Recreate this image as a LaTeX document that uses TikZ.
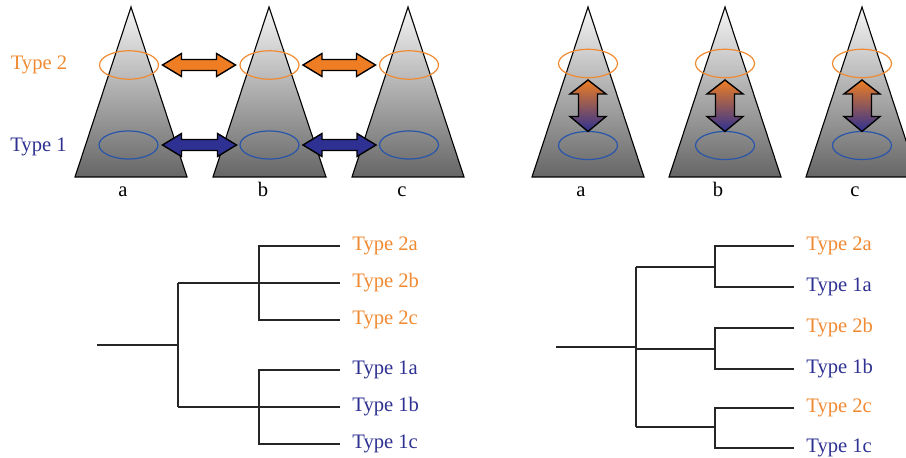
\documentclass[tikz,border=0pt]{standalone}
\usepackage{fontspec}
\setmainfont{Liberation Serif}
\usepackage{tikz}
\usetikzlibrary{positioning,calc}

\definecolor{typeorange}{RGB}{240,138,50}
\definecolor{typeblue}{RGB}{46,49,146}
\definecolor{ringblue}{RGB}{40,85,170}
\definecolor{arrorange}{RGB}{238,125,35}

\tikzset{
	cone/.style={draw=black, line width=0.55pt, top color=black!4, bottom color=black!60},
	ringtwo/.style={draw=typeorange, line width=0.6pt},
	ringone/.style={draw=ringblue, line width=0.6pt},
	tree/.style={draw=black!85, line width=0.75pt},
	leaftwo/.style={anchor=west, inner xsep=6pt, text=typeorange},
	leafone/.style={anchor=west, inner xsep=6pt, text=typeblue},
	conename/.style={anchor=base, inner sep=1pt}
}

\begin{document}
\begin{tikzpicture}[x=0.5pt, y=-0.5pt, font=\fontsize{10.3}{12}\selectfont]
	\useasboundingbox (0,0) rectangle (906,458);
	
	% cones, left panel
	\shadedraw[cone] (131,7) -- (187,177) -- (75,177) -- cycle;
	\shadedraw[cone] (269,7) -- (326,177) -- (213,177) -- cycle;
	\shadedraw[cone] (408,7) -- (464,177) -- (352,177) -- cycle;
	
	% rings, left panel
	\draw[ringtwo] (129,65) ellipse (29.5 and 14.2);
	\draw[ringtwo] (269.5,65) ellipse (29.5 and 14.2);
	\draw[ringtwo] (409,65) ellipse (29.5 and 14.2);
	\draw[ringone] (128.5,145) ellipse (29.5 and 14);
	\draw[ringone] (269.5,145) ellipse (29.5 and 14);
	\draw[ringone] (409,145) ellipse (29.5 and 14);
	
	% exchange arrows type 2
	\foreach \xa/\xb in {162.5/235.5, 303/375.5}{
		\draw[fill=arrorange, line width=0.7pt] (\xa,65) -- (\xa+19,53.5) -- (\xa+19,59.5)
		-- (\xb-19,59.5) -- (\xb-19,53.5) -- (\xb,65) -- (\xb-19,76.5) -- (\xb-19,70.5)
		-- (\xa+19,70.5) -- (\xa+19,76.5) -- cycle;
	}
	% exchange arrows type 1
	\foreach \xa/\xb in {162.5/236.5, 303/376}{
		\draw[fill=typeblue, line width=0.7pt] (\xa,145) -- (\xa+19,133.5) -- (\xa+19,139.5)
		-- (\xb-19,139.5) -- (\xb-19,133.5) -- (\xb,145) -- (\xb-19,156.5) -- (\xb-19,150.5)
		-- (\xa+19,150.5) -- (\xa+19,156.5) -- cycle;
	}
	
	% descriptions, left panel
	\node[text=typeorange] (lbltwo) at (39,65) {Type 2};
	\node[text=typeblue] (lblone) at (38.5,147) {Type 1};
	\node[conename] (la) at (123,197) {a};
	\node[conename] (lb) at (263,197) {b};
	\node[conename] (lc) at (402,197) {c};
	
	% cones, right panel
	\shadedraw[cone] (588,7) -- (644,177) -- (532,177) -- cycle;
	\shadedraw[cone] (725,7) -- (781,177) -- (669,177) -- cycle;
	\shadedraw[cone] (862,7) -- (918,177) -- (806,177) -- cycle;
	
	% rings and arrows, right panel
	\foreach \xc in {588,725,862}{
		\draw[ringtwo] (\xc,63.5) ellipse (29.5 and 14.2);
		\draw[ringone] (\xc,145.5) ellipse (29.5 and 14);
		\shadedraw[top color=arrorange, bottom color=typeblue, line width=0.7pt]
		(\xc,80) -- (\xc+18,94) -- (\xc+9.5,94) -- (\xc+9.5,116.5) -- (\xc+18,116.5)
		-- (\xc,131.5) -- (\xc-18,116.5) -- (\xc-9.5,116.5) -- (\xc-9.5,94)
		-- (\xc-18,94) -- cycle;
	}
	\node[conename] (ra) at (581,197) {a};
	\node[conename] (rb) at (718,197) {b};
	\node[conename] (rc) at (855,197) {c};
	
	% tree, left
	\node[leaftwo] (l2a) at (340,246) {Type 2a};
	\node[leaftwo] (l2b) at (340,283) {Type 2b};
	\node[leaftwo] (l2c) at (340,320) {Type 2c};
	\node[leafone] (l1a) at (340,370) {Type 1a};
	\node[leafone] (l1b) at (340,407) {Type 1b};
	\node[leafone] (l1c) at (340,444) {Type 1c};
	\coordinate (lroot) at (97,345);
	\coordinate (lsplit) at (178,345);
	\coordinate (ltop) at (178,283);
	\coordinate (lbot) at (178,407);
	\coordinate (lnodetwo) at (259,283);
	\coordinate (lnodeone) at (259,407);
	\draw[tree] (lroot) -- (lsplit);
	\draw[tree] (ltop) -- (lbot);
	\draw[tree] (ltop) -- (l2b.west);
	\draw[tree] (lbot) -- (l1b.west);
	\draw[tree] (l2a.west) -| (lnodetwo) |- (l2c.west);
	\draw[tree] (l1a.west) -| (lnodeone) |- (l1c.west);
	
	% tree, right
	\node[leaftwo] (r2a) at (794,246) {Type 2a};
	\node[leafone] (r1a) at (794,287) {Type 1a};
	\node[leaftwo] (r2b) at (794,328) {Type 2b};
	\node[leafone] (r1b) at (794,369) {Type 1b};
	\node[leaftwo] (r2c) at (794,408) {Type 2c};
	\node[leafone] (r1c) at (794,448) {Type 1c};
	\coordinate (rroot) at (556,347);
	\coordinate (rsplit) at (636,347);
	\coordinate (rtop) at (636,267);
	\coordinate (rbot) at (636,427);
	\coordinate (rmid) at (636,349);
	\coordinate (rna) at (715,267);
	\coordinate (rnb) at (715,349);
	\coordinate (rnc) at (715,427);
	\draw[tree] (rroot) -- (rsplit);
	\draw[tree] (rtop) -- (rbot);
	\draw[tree] (rtop) -- (rna);
	\draw[tree] (rmid) -- (rnb);
	\draw[tree] (rbot) -- (rnc);
	\draw[tree] (r2a.west) -| (rna) |- (r1a.west);
	\draw[tree] (r2b.west) -| (rnb) |- (r1b.west);
	\draw[tree] (r2c.west) -| (rnc) |- (r1c.west);
\end{tikzpicture}
\end{document}
